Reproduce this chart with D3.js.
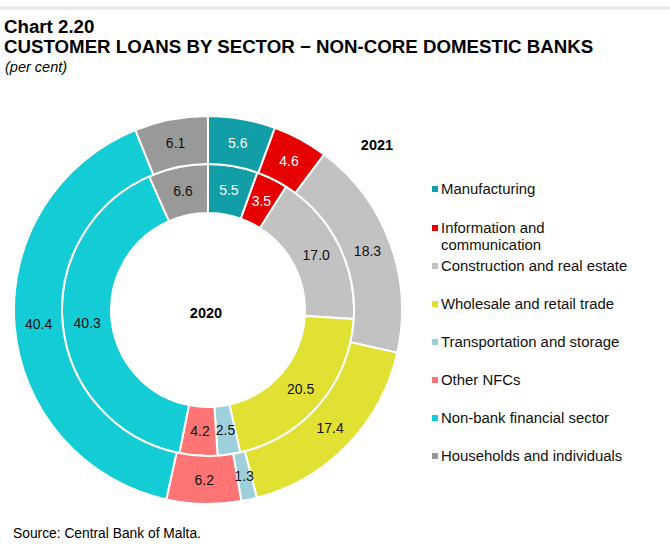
<!DOCTYPE html>
<html><head><meta charset="utf-8">
<script src="https://cdnjs.cloudflare.com/ajax/libs/d3/7.8.5/d3.min.js"></script>
<style>body{margin:0;background:#fff;} svg{display:block;font-family:"Liberation Sans",Arial,sans-serif;}</style>
</head><body>
<script>
const categories = ["Manufacturing","Information and communication","Construction and real estate","Wholesale and retail trade","Transportation and storage","Other NFCs","Non-bank financial sector","Households and individuals"];
const legendLines = [["Manufacturing"],["Information and","communication"],["Construction and real estate"],["Wholesale and retail trade"],["Transportation and storage"],["Other NFCs"],["Non-bank financial sector"],["Households and individuals"]];
const values2020 = [5.5,3.5,17.0,20.5,2.5,4.2,40.3,6.6];
const values2021 = [5.6,4.6,18.3,17.4,1.3,6.2,40.4,6.1];
const colors = ["#119ea6","#e60000","#c2c2c2","#e1e133","#9dd0da","#ff7474","#14ccd6","#999999"];
const labelColors = ["#fff","#fff","#111","#111","#111","#111","#111","#111"];

const W=670,H=545;
const svg=d3.select("body").append("svg").attr("width",W).attr("height",H);
svg.append("rect").attr("x",0).attr("y",6).attr("width",W).attr("height",4).attr("fill","#e9e9e9");
svg.append("text").attr("x",4).attr("y",33).attr("font-size",18.7).attr("font-weight","bold").text("Chart 2.20");
svg.append("text").attr("x",4).attr("y",53).attr("font-size",18.7).attr("font-weight","bold").text("CUSTOMER LOANS BY SECTOR \u2212 NON-CORE DOMESTIC BANKS");
svg.append("text").attr("x",5).attr("y",72).attr("font-size",14.5).attr("font-style","italic").text("(per cent)");
svg.append("text").attr("x",13).attr("y",538).attr("font-size",13.8).text("Source: Central Bank of Malta.");

const cx=208,cy=310;
const g=svg.append("g").attr("transform",`translate(${cx},${cy})`);
const pie=d3.pie().sort(null).value(d=>d);
const rings=[{vals:values2020,r0:97,r1:146},{vals:values2021,r0:146,r1:194}];
rings.forEach(ring=>{
  const arc=d3.arc().innerRadius(ring.r0).outerRadius(ring.r1);
  const arcs=pie(ring.vals);
  g.selectAll(null).data(arcs).enter().append("path")
    .attr("d",arc).attr("fill",(d,i)=>colors[i]).attr("stroke","#fff").attr("stroke-width",2);
  g.selectAll(null).data(arcs).enter().append("text")
    .attr("transform",d=>`translate(${arc.centroid(d)})`)
    .attr("text-anchor","middle").attr("dy","0.36em").attr("font-size",14)
    .attr("fill",(d,i)=>labelColors[i]).text(d=>d3.format(".1f")(d.data));
});
svg.append("text").attr("x",206).attr("y",318).attr("text-anchor","middle").attr("font-size",14.5).attr("font-weight","bold").text("2020");
svg.append("text").attr("x",377).attr("y",150).attr("text-anchor","middle").attr("font-size",14.5).attr("font-weight","bold").text("2021");

const legY=[189,228,266,304,342,380,418,456];
const lg=svg.append("g");
categories.forEach((c,i)=>{
  lg.append("rect").attr("x",432).attr("y",legY[i]-3).attr("width",6).attr("height",6).attr("fill",colors[i]);
  legendLines[i].forEach((t,j)=>{
    lg.append("text").attr("x",441).attr("y",legY[i]+5+j*16.5).attr("font-size",14.9).attr("fill","#111").text(t);
  });
});
</script>
</body></html>
